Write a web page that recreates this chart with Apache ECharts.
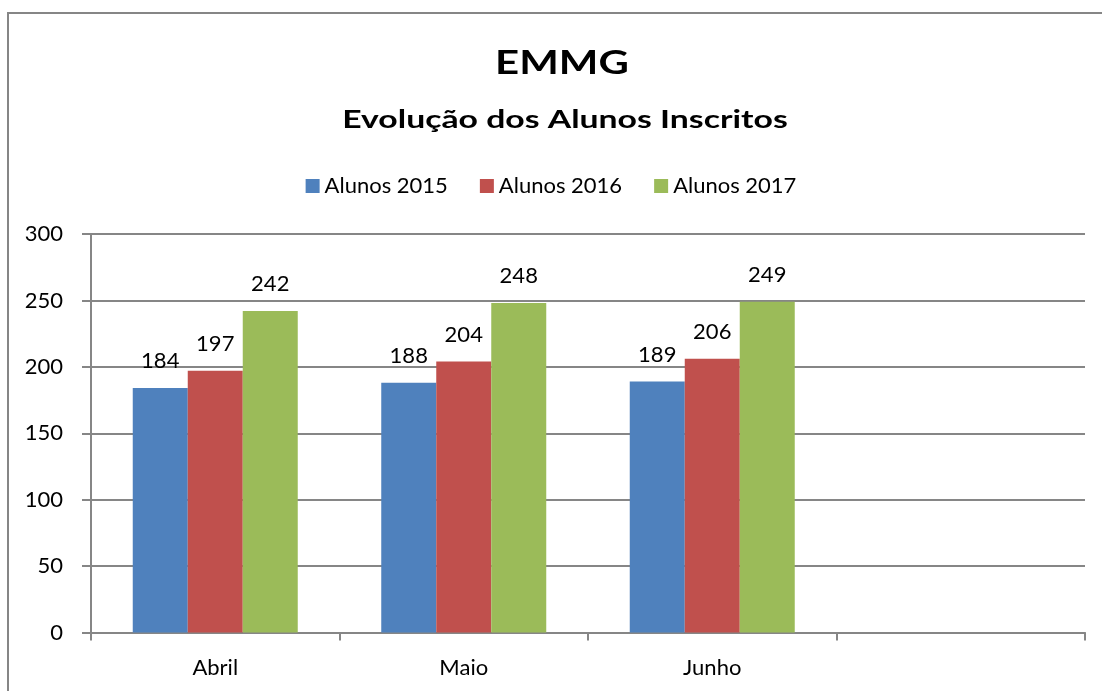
<!DOCTYPE html>
<html>
<head>
<meta charset="utf-8">
<script src="https://cdn.jsdelivr.net/npm/echarts@6/dist/echarts.min.js"></script>
<style>
  html, body { margin: 0; padding: 0; background: #fff; }
  #chart { width: 1102px; height: 691px; }
</style>
</head>
<body>
<div id="chart"></div>
<script>
// Monthly enrolment per school year
const months = ['Abril', 'Maio', 'Junho', ''];
const seriesNames = ['Alunos 2015', 'Alunos 2016', 'Alunos 2017'];
const alunos2015 = [184, 188, 189, null];
const alunos2016 = [197, 204, 206, null];
const alunos2017 = [242, 248, 249, null];
const yTicks = { min: 0, max: 300, interval: 50 };

const FONT = 'Lato, "Open Sans", sans-serif';
const colors = ['#4f81bd', '#c0504d', '#9bbb59'];
const gridGray = '#868686';

const chart = echarts.init(document.getElementById('chart'), null, { renderer: 'canvas' });

function barSeries(name, data, color) {
  return {
    name: name,
    type: 'bar',
    data: data,
    barWidth: 55,
    barGap: '0%',
    itemStyle: { color: color },
    label: {
      show: true,
      position: 'top',
      distance: 16,
      color: '#000',
      fontFamily: FONT,
      fontSize: 22
    }
  };
}

chart.setOption({
  animation: false,
  color: colors,
  graphic: [
    {
      type: 'rect',
      shape: { x: 8, y: 13, width: 1100, height: 700 },
      style: { fill: 'none', stroke: gridGray, lineWidth: 2 },
      silent: true
    },
    {
      // wide display title
      type: 'text',
      x: 562, y: 64,
      scaleX: 1.31,
      style: {
        text: 'EMMG', fill: '#000', font: 'bold 32px ' + FONT,
        textAlign: 'center', textVerticalAlign: 'middle'
      }
    },
    {
      type: 'text',
      x: 565, y: 120,
      scaleX: 1.35,
      style: {
        text: 'Evolução dos Alunos Inscritos', fill: '#000', font: 'bold 25px ' + FONT,
        textAlign: 'center', textVerticalAlign: 'middle'
      }
    }
  ],
  legend: {
    data: seriesNames,
    top: 170,
    left: 'center',
    icon: 'rect',
    itemWidth: 14,
    itemHeight: 14,
    itemGap: 32,
    textStyle: { fontFamily: FONT, fontSize: 22, color: '#000', padding: [0, 0, 0, 0] }
  },
  grid: { left: 91, right: 17, top: 234, bottom: 58.5, containLabel: false },
  xAxis: {
    type: 'category',
    data: months,
    axisLine: { lineStyle: { color: gridGray, width: 2 } },
    axisTick: { show: true, length: 8, lineStyle: { color: gridGray, width: 2 } },
    axisLabel: { color: '#000', fontFamily: FONT, fontSize: 22, margin: 24 },
    splitLine: { show: false }
  },
  yAxis: {
    type: 'value',
    min: yTicks.min,
    max: yTicks.max,
    interval: yTicks.interval,
    axisLine: { show: true, lineStyle: { color: gridGray, width: 2 } },
    axisTick: { show: true, length: 9, lineStyle: { color: gridGray, width: 2 } },
    axisLabel: { color: '#000', fontFamily: FONT, fontSize: 22, margin: 28 },
    splitLine: { show: true, lineStyle: { color: gridGray, width: 2 } }
  },
  series: [
    barSeries(seriesNames[0], alunos2015, colors[0]),
    barSeries(seriesNames[1], alunos2016, colors[1]),
    barSeries(seriesNames[2], alunos2017, colors[2])
  ]
});
</script>
</body>
</html>
